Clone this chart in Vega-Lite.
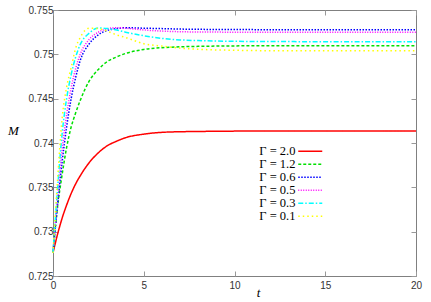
{
  "$schema": "https://vega.github.io/schema/vega-lite/v6.json",
  "width": 363,
  "height": 266,
  "autosize": {"type": "none"},
  "padding": {"left": 53, "top": 10, "right": 15, "bottom": 26},
  "background": "white",
  "config": {
    "view": {"stroke": "#808080", "strokeWidth": 1},
    "axis": {
      "grid": false,
      "domain": false,
      "tickColor": "#999999",
      "tickSize": -5,
      "tickWidth": 1,
      "labelFlush": false,
      "labelFont": "Liberation Sans",
      "labelFontSize": 10,
      "labelColor": "#333333",
      "titleFont": "Liberation Serif",
      "titleFontStyle": "italic",
      "titleFontWeight": "normal",
      "titleFontSize": 13,
      "titleColor": "black"
    }
  },
  "data": {
    "values": [
      {"g": "Γ = 2.0", "t": 0, "M": 0.7276}, {"g": "Γ = 2.0", "t": 0.25, "M": 0.7297}, {"g": "Γ = 2.0", "t": 0.5, "M": 0.7315}, {"g": "Γ = 2.0", "t": 0.75, "M": 0.733}, {"g": "Γ = 2.0", "t": 1, "M": 0.7343}, {"g": "Γ = 2.0", "t": 1.25, "M": 0.7354}, {"g": "Γ = 2.0", "t": 1.5, "M": 0.7363}, {"g": "Γ = 2.0", "t": 2, "M": 0.7378}, {"g": "Γ = 2.0", "t": 2.5, "M": 0.7389}, {"g": "Γ = 2.0", "t": 3, "M": 0.7397}, {"g": "Γ = 2.0", "t": 3.5, "M": 0.7402}, {"g": "Γ = 2.0", "t": 4, "M": 0.7406}, {"g": "Γ = 2.0", "t": 5, "M": 0.741}, {"g": "Γ = 2.0", "t": 6, "M": 0.7412}, {"g": "Γ = 2.0", "t": 7, "M": 0.74127}, {"g": "Γ = 2.0", "t": 8, "M": 0.7413}, {"g": "Γ = 2.0", "t": 10, "M": 0.74134}, {"g": "Γ = 2.0", "t": 12, "M": 0.74135}, {"g": "Γ = 2.0", "t": 15, "M": 0.74135}, {"g": "Γ = 2.0", "t": 20, "M": 0.74135},
      {"g": "Γ = 1.2", "t": 0, "M": 0.7276}, {"g": "Γ = 1.2", "t": 0.25, "M": 0.7328}, {"g": "Γ = 1.2", "t": 0.5, "M": 0.7364}, {"g": "Γ = 1.2", "t": 0.75, "M": 0.7395}, {"g": "Γ = 1.2", "t": 1, "M": 0.7418}, {"g": "Γ = 1.2", "t": 1.25, "M": 0.7434}, {"g": "Γ = 1.2", "t": 1.5, "M": 0.7448}, {"g": "Γ = 1.2", "t": 2, "M": 0.747}, {"g": "Γ = 1.2", "t": 2.5, "M": 0.7483}, {"g": "Γ = 1.2", "t": 3, "M": 0.7492}, {"g": "Γ = 1.2", "t": 3.5, "M": 0.7497}, {"g": "Γ = 1.2", "t": 4, "M": 0.7501}, {"g": "Γ = 1.2", "t": 5, "M": 0.75055}, {"g": "Γ = 1.2", "t": 6, "M": 0.75075}, {"g": "Γ = 1.2", "t": 7, "M": 0.75085}, {"g": "Γ = 1.2", "t": 8, "M": 0.7509}, {"g": "Γ = 1.2", "t": 10, "M": 0.75095}, {"g": "Γ = 1.2", "t": 12, "M": 0.75097}, {"g": "Γ = 1.2", "t": 15, "M": 0.75098}, {"g": "Γ = 1.2", "t": 20, "M": 0.75098},
      {"g": "Γ = 0.6", "t": 0, "M": 0.7276}, {"g": "Γ = 0.6", "t": 0.25, "M": 0.733}, {"g": "Γ = 0.6", "t": 0.5, "M": 0.7378}, {"g": "Γ = 0.6", "t": 0.75, "M": 0.7418}, {"g": "Γ = 0.6", "t": 1, "M": 0.745}, {"g": "Γ = 0.6", "t": 1.25, "M": 0.7474}, {"g": "Γ = 0.6", "t": 1.5, "M": 0.7493}, {"g": "Γ = 0.6", "t": 2, "M": 0.7512}, {"g": "Γ = 0.6", "t": 2.5, "M": 0.7522}, {"g": "Γ = 0.6", "t": 3, "M": 0.7527}, {"g": "Γ = 0.6", "t": 3.5, "M": 0.7529}, {"g": "Γ = 0.6", "t": 4, "M": 0.753}, {"g": "Γ = 0.6", "t": 5, "M": 0.75295}, {"g": "Γ = 0.6", "t": 6, "M": 0.7529}, {"g": "Γ = 0.6", "t": 7, "M": 0.75285}, {"g": "Γ = 0.6", "t": 8, "M": 0.75282}, {"g": "Γ = 0.6", "t": 10, "M": 0.7528}, {"g": "Γ = 0.6", "t": 12, "M": 0.75278}, {"g": "Γ = 0.6", "t": 15, "M": 0.75278}, {"g": "Γ = 0.6", "t": 20, "M": 0.75278},
      {"g": "Γ = 0.5", "t": 0, "M": 0.7276}, {"g": "Γ = 0.5", "t": 0.25, "M": 0.7338}, {"g": "Γ = 0.5", "t": 0.5, "M": 0.7392}, {"g": "Γ = 0.5", "t": 0.75, "M": 0.7432}, {"g": "Γ = 0.5", "t": 1, "M": 0.7462}, {"g": "Γ = 0.5", "t": 1.25, "M": 0.7484}, {"g": "Γ = 0.5", "t": 1.5, "M": 0.75}, {"g": "Γ = 0.5", "t": 2, "M": 0.7517}, {"g": "Γ = 0.5", "t": 2.5, "M": 0.7525}, {"g": "Γ = 0.5", "t": 3, "M": 0.7529}, {"g": "Γ = 0.5", "t": 3.5, "M": 0.753}, {"g": "Γ = 0.5", "t": 4, "M": 0.75295}, {"g": "Γ = 0.5", "t": 5, "M": 0.75275}, {"g": "Γ = 0.5", "t": 6, "M": 0.75262}, {"g": "Γ = 0.5", "t": 7, "M": 0.75255}, {"g": "Γ = 0.5", "t": 8, "M": 0.75252}, {"g": "Γ = 0.5", "t": 10, "M": 0.7525}, {"g": "Γ = 0.5", "t": 12, "M": 0.75249}, {"g": "Γ = 0.5", "t": 15, "M": 0.75249}, {"g": "Γ = 0.5", "t": 20, "M": 0.75249},
      {"g": "Γ = 0.3", "t": 0, "M": 0.7276}, {"g": "Γ = 0.3", "t": 0.25, "M": 0.7348}, {"g": "Γ = 0.3", "t": 0.5, "M": 0.741}, {"g": "Γ = 0.3", "t": 0.75, "M": 0.745}, {"g": "Γ = 0.3", "t": 1, "M": 0.7477}, {"g": "Γ = 0.3", "t": 1.25, "M": 0.7497}, {"g": "Γ = 0.3", "t": 1.5, "M": 0.7511}, {"g": "Γ = 0.3", "t": 2, "M": 0.7524}, {"g": "Γ = 0.3", "t": 2.5, "M": 0.75298}, {"g": "Γ = 0.3", "t": 3, "M": 0.7529}, {"g": "Γ = 0.3", "t": 3.5, "M": 0.75275}, {"g": "Γ = 0.3", "t": 4, "M": 0.7525}, {"g": "Γ = 0.3", "t": 5, "M": 0.7521}, {"g": "Γ = 0.3", "t": 6, "M": 0.7518}, {"g": "Γ = 0.3", "t": 7, "M": 0.75163}, {"g": "Γ = 0.3", "t": 8, "M": 0.75155}, {"g": "Γ = 0.3", "t": 10, "M": 0.75147}, {"g": "Γ = 0.3", "t": 12, "M": 0.75144}, {"g": "Γ = 0.3", "t": 15, "M": 0.75143}, {"g": "Γ = 0.3", "t": 20, "M": 0.75143},
      {"g": "Γ = 0.1", "t": 0, "M": 0.7276}, {"g": "Γ = 0.1", "t": 0.25, "M": 0.7358}, {"g": "Γ = 0.1", "t": 0.5, "M": 0.7427}, {"g": "Γ = 0.1", "t": 0.75, "M": 0.7463}, {"g": "Γ = 0.1", "t": 1, "M": 0.7485}, {"g": "Γ = 0.1", "t": 1.25, "M": 0.7507}, {"g": "Γ = 0.1", "t": 1.5, "M": 0.7519}, {"g": "Γ = 0.1", "t": 2, "M": 0.75295}, {"g": "Γ = 0.1", "t": 2.5, "M": 0.7529}, {"g": "Γ = 0.1", "t": 3, "M": 0.7526}, {"g": "Γ = 0.1", "t": 3.5, "M": 0.7522}, {"g": "Γ = 0.1", "t": 4, "M": 0.7519}, {"g": "Γ = 0.1", "t": 5, "M": 0.7512}, {"g": "Γ = 0.1", "t": 6, "M": 0.75093}, {"g": "Γ = 0.1", "t": 7, "M": 0.7507}, {"g": "Γ = 0.1", "t": 8, "M": 0.75057}, {"g": "Γ = 0.1", "t": 10, "M": 0.75046}, {"g": "Γ = 0.1", "t": 12, "M": 0.75041}, {"g": "Γ = 0.1", "t": 15, "M": 0.7504}, {"g": "Γ = 0.1", "t": 20, "M": 0.7504}
    ]
  },
  "layer": [
    {
      "mark": {"type": "line", "interpolate": "monotone", "strokeWidth": 1.5},
      "encoding": {
        "x": {
          "field": "t", "type": "quantitative",
          "scale": {"domain": [0, 20], "nice": false, "zero": false},
          "axis": {"values": [0, 5, 10, 15, 20], "labelPadding": 9, "title": "t", "titleAngle": 0, "titleX": 205, "titleY": 16, "titleAlign": "center", "titleBaseline": "middle"}
        },
        "y": {
          "field": "M", "type": "quantitative",
          "scale": {"domain": [0.725, 0.755], "nice": false, "zero": false},
          "axis": {"values": [0.725, 0.73, 0.735, 0.74, 0.745, 0.75, 0.755], "format": "~g", "labelPadding": 5, "title": "M", "titleAngle": 0, "titleX": -40, "titleY": 120, "titleAlign": "center", "titleBaseline": "middle"}
        },
        "color": {
          "field": "g", "type": "nominal",
          "scale": {
            "domain": ["Γ = 2.0", "Γ = 1.2", "Γ = 0.6", "Γ = 0.5", "Γ = 0.3", "Γ = 0.1"],
            "range": ["#ff0000", "#00e000", "#0000ff", "#ff00ff", "#00ffff", "#ffff00"]
          },
          "legend": {
            "title": null,
            "orient": "none",
            "legendX": 251,
            "legendY": 135,
            "padding": 0,
            "symbolType": "M-2.4,0H2.4",
            "symbolSize": 100,
            "symbolStrokeWidth": 1.5,
            "labelFont": "Liberation Serif",
            "labelFontSize": 12.5,
            "labelColor": "black",
            "labelAlign": "right",
            "labelOffset": -21,
            "rowPadding": -1
          }
        },
        "strokeDash": {
          "field": "g", "type": "nominal",
          "scale": {
            "domain": ["Γ = 2.0", "Γ = 1.2", "Γ = 0.6", "Γ = 0.5", "Γ = 0.3", "Γ = 0.1"],
            "range": [[1, 0], [3, 2], [1.5, 1.5], [1, 1.5], [5, 2, 1.5, 2], [1.5, 3]]
          },
          "legend": null
        }
      }
    },
    {
      "mark": {"type": "line", "opacity": 0},
      "encoding": {
        "x": {"field": "t", "type": "quantitative", "axis": {"orient": "top", "values": [0, 5, 10, 15, 20], "labels": false, "title": null}},
        "y": {"field": "M", "type": "quantitative", "axis": {"orient": "right", "values": [0.725, 0.73, 0.735, 0.74, 0.745, 0.75, 0.755], "labels": false, "title": null}},
        "detail": {"field": "g"}
      }
    }
  ],
  "resolve": {"axis": {"x": "independent", "y": "independent"}}
}
